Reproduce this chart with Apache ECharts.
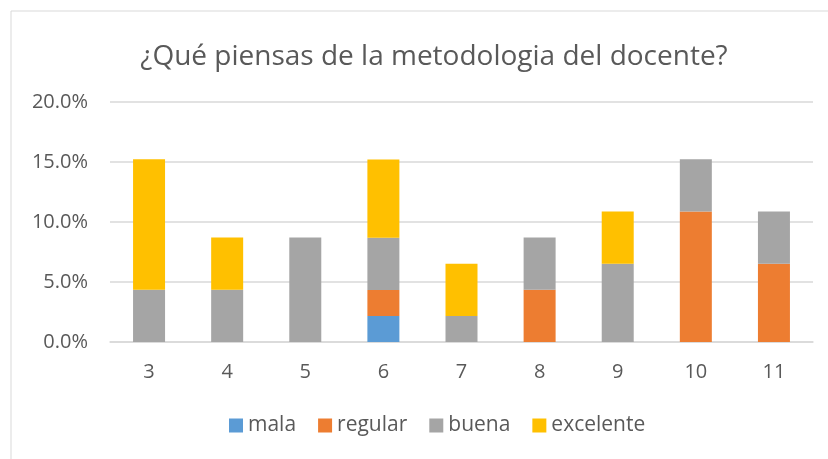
<!DOCTYPE html>
<html>
<head>
<meta charset="utf-8">
<script src="https://cdn.jsdelivr.net/npm/echarts@6/dist/echarts.min.js"></script>
<style>
  html, body { margin: 0; padding: 0; background: #fff; }
  #chart { width: 828px; height: 459px; }
</style>
</head>
<body>
<div id="chart"></div>
<script>
// categorías (eje x) y porcentajes de cada respuesta
const categories = ['3', '4', '5', '6', '7', '8', '9', '10', '11'];
const mala      = [0, 0, 0, 2.17, 0, 0, 0, 0, 0];
const regular   = [0, 0, 0, 2.17, 0, 4.35, 0, 10.87, 6.52];
const buena     = [4.35, 4.35, 8.70, 4.35, 2.17, 4.35, 6.52, 4.35, 4.35];
const excelente = [10.87, 4.35, 0, 6.52, 4.35, 0, 4.35, 0, 0];
const yTicks = [0, 5, 10, 15, 20];

const txt = '#595959';
const font = 'Open Sans';

function serie(name, data, color) {
  return {
    name: name,
    type: 'bar',
    stack: 'total',
    barWidth: 32,
    data: data,
    itemStyle: { color: color },
    emphasis: { disabled: true }
  };
}

const chart = echarts.init(document.getElementById('chart'));
chart.setOption({
  animation: false,
  textStyle: { fontFamily: font },
  graphic: [{
    type: 'rect',
    shape: { x: 11, y: 11, width: 830, height: 460 },
    style: { fill: 'none', stroke: '#d9d9d9', lineWidth: 1 }
  }],
  title: {
    text: '¿Qué piensas de la metodologia del docente?',
    left: 429,
    textAlign: 'center',
    top: 38,
    textStyle: { color: txt, fontSize: 28, fontWeight: 'normal', fontFamily: font }
  },
  legend: {
    bottom: 18,
    left: 224,
    itemWidth: 14,
    itemHeight: 14,
    itemGap: 22,
    icon: 'rect',
    textStyle: { color: txt, fontSize: 21, fontFamily: font },
    data: ['mala', 'regular', 'buena', 'excelente']
  },
  grid: { left: 110, right: 15, top: 102, bottom: 117 },
  xAxis: {
    type: 'category',
    data: categories,
    axisTick: { show: false },
    axisLine: { lineStyle: { color: '#d9d9d9', width: 1.5 } },
    axisLabel: { color: txt, fontSize: 20, margin: 20 }
  },
  yAxis: {
    type: 'value',
    min: yTicks[0],
    max: yTicks[yTicks.length - 1],
    interval: 5,
    axisLine: { show: false },
    axisTick: { show: false },
    splitLine: { lineStyle: { color: '#d9d9d9', width: 1.5 } },
    axisLabel: {
      color: txt, fontSize: 20, margin: 22,
      formatter: v => v.toFixed(1) + '%'
    }
  },
  series: [
    serie('mala', mala, '#5B9BD5'),
    serie('regular', regular, '#ED7D31'),
    serie('buena', buena, '#A5A5A5'),
    serie('excelente', excelente, '#FFC000')
  ]
});
</script>
</body>
</html>
